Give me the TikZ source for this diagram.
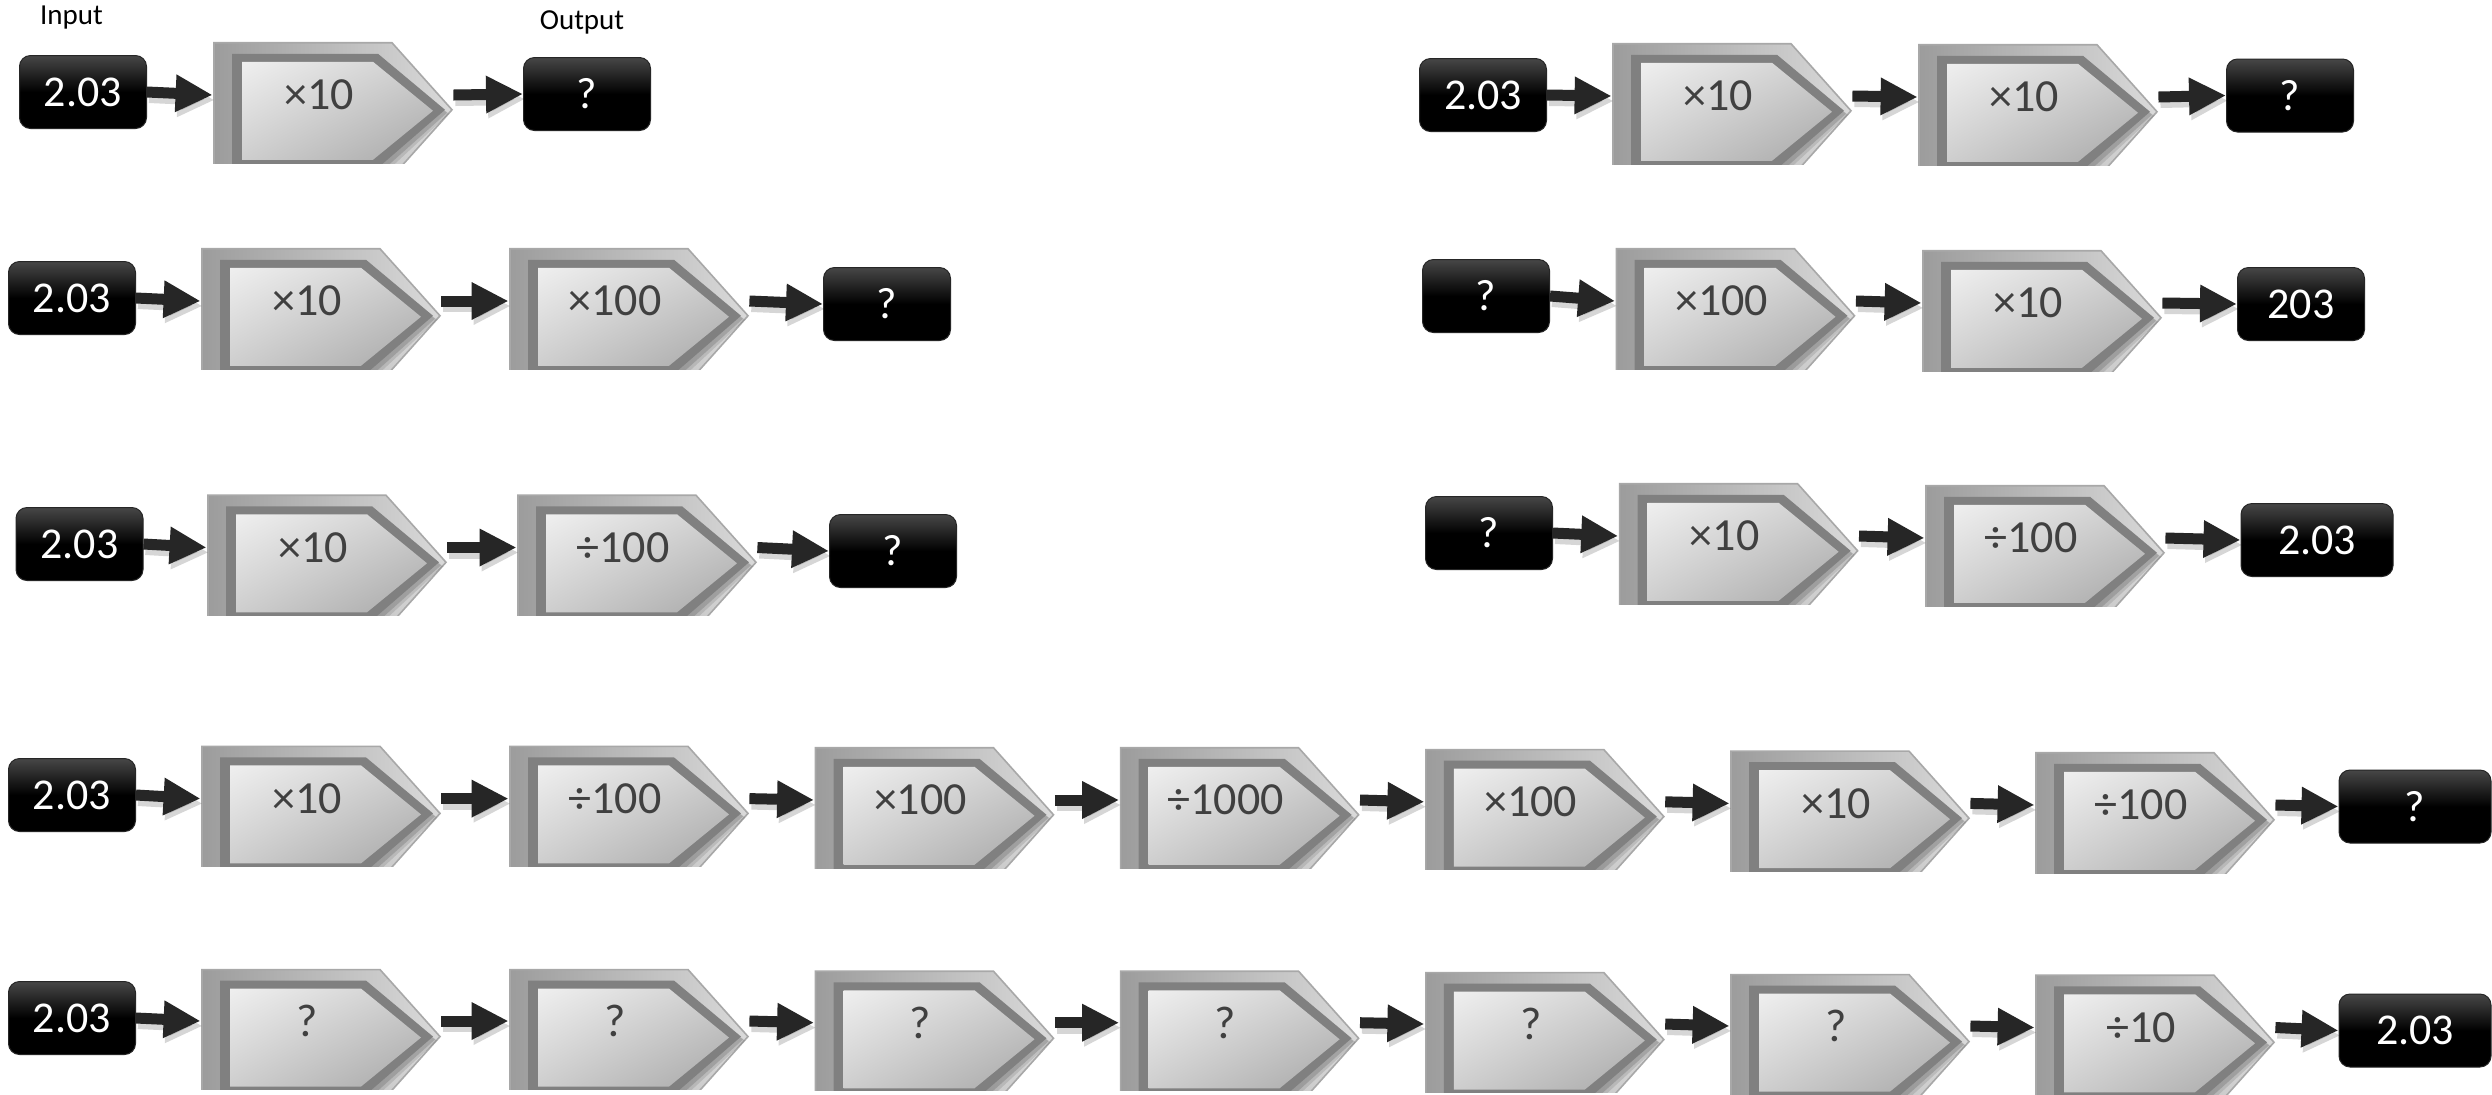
\documentclass[tikz,border=0pt]{standalone}
\usepackage{fontspec}
\setmainfont{Carlito}
\usetikzlibrary{arrows.meta,shadings}
\definecolor{arrowc}{HTML}{262626}
\definecolor{optext}{HTML}{404040}
\definecolor{rimL}{HTML}{9C9C9C}
\definecolor{rimR}{HTML}{DADADA}
\definecolor{rimB}{HTML}{A8A8A8}
\definecolor{darkin}{HTML}{808080}
\definecolor{litUL}{HTML}{EFEFEF}
\definecolor{litLR}{HTML}{A8A8A8}
\definecolor{litM}{HTML}{CECECE}
\definecolor{boxtop}{HTML}{474747}
\newcommand{\opl}[1]{\makebox[0pt][l]{\kern-7pt\makebox[0pt]{#1}}}
\tikzset{
  opbox/.style={rectangle, minimum width=120pt, minimum height=68pt, inner sep=0pt, draw=none,
    font=\fontsize{23}{27}\selectfont, text=optext,
    path picture={
      \begin{scope}[shift={(path picture bounding box.center)}, x=1pt, y=1pt]
        \path[left color=rimL, right color=rimR, draw=rimB, line width=0.8pt]
          (-59.5,33.5) -- (29.5,33.5) -- (59.5,0) -- (29.5,-33.5) -- (-59.5,-33.5) -- cycle;
        \fill[black, opacity=0.10] (-49,24) -- (25,24) -- (58,-2) -- (25,-32.5) -- (-49,-32.5) -- cycle;
        \fill[black, opacity=0.14] (-49.5,25) -- (24,25) -- (57,-1.5) -- (24,-31) -- (-49.5,-31) -- cycle;
        \fill[darkin] (-50.5,28) -- (22.5,28) -- (56,0) -- (22.5,-29) -- (-50.5,-29) -- cycle;
        \shade[upper left=litUL, lower right=litLR, upper right=litM, lower left=litM]
          (-45.5,24) -- (20,24) -- (50,-0.5) -- (20,-25) -- (-45.5,-25) -- cycle;
      \end{scope}}},
  valbox/.style={rectangle, rounded corners=5.5pt, minimum width=63.5pt, minimum height=36.5pt,
    inner sep=0pt, draw=black!85, line width=0.5pt,
    top color=boxtop, bottom color=black, middle color=black,
    text=white, font=\fontsize{22}{26}\selectfont},
  widebox/.style={valbox, minimum width=76pt},
  flow/.style={draw=arrowc, line width=5.5pt, -{Triangle[length=18.5pt,width=17.5pt]}},
  flowsh/.style={draw=black, opacity=0.16, line width=6pt, -{Triangle[length=18.5pt,width=17.5pt]}},
  lbl/.style={font=\fontsize{14.5}{17}\selectfont, text=black}
}
\begin{document}
\begin{tikzpicture}[x=0.5pt,y=0.5pt]
\useasboundingbox (0,0) rectangle (2492,-1094);
\fill[white] (0,0) rectangle (2492,-1094);

% row 1 left
\node[lbl] (inlab) at (71.5,-17.5) {Input};
\node[lbl] (outlab) at (582,-22) {Output};
\node[valbox] (a0) at (83,-92) {2.03};
\node[opbox] (a1) at (333,-95) {\opl{×10}};
\node[valbox] (a2) at (587,-94) {?};

% row 1 right
\node[valbox] (b0) at (1483,-95) {2.03};
\node[opbox] (b1) at (1732,-96) {\opl{×10}};
\node[opbox] (b2) at (2038,-97) {\opl{×10}};
\node[valbox] (b3) at (2290,-95.5) {?};

% row 2 left
\node[valbox] (c0) at (72,-298) {2.03};
\node[opbox] (c1) at (321,-301) {\opl{×10}};
\node[opbox] (c2) at (629,-301) {\opl{×100}};
\node[valbox] (c3) at (887,-304) {?};

% row 2 right
\node[valbox] (d0) at (1486,-296) {?};
\node[opbox] (d1) at (1735.5,-301) {\opl{×100}};
\node[opbox] (d2) at (2042,-303) {\opl{×10}};
\node[valbox] (d3) at (2301,-304) {203};

% row 3 left
\node[valbox] (e0) at (79.5,-544) {2.03};
\node[opbox] (e1) at (327,-547.5) {\opl{×10}};
\node[opbox] (e2) at (637,-547.5) {\opl{÷100}};
\node[valbox] (e3) at (893,-551) {?};

% row 3 right
\node[valbox] (f0) at (1489,-533) {?};
\node[opbox] (f1) at (1738.6,-536) {\opl{×10}};
\node[opbox] (f2) at (2045,-538) {\opl{÷100}};
\node[widebox] (f3) at (2317,-540) {2.03};

% row 4
\node[valbox] (g0) at (72,-795) {2.03};
\node[opbox] (g1) at (321,-798.6) {\opl{×10}};
\node[opbox] (g2) at (629,-798.6) {\opl{÷100}};
\node[opbox] (g3) at (934.5,-800) {\opl{×100}};
\node[opbox] (g4) at (1239.6,-800) {\opl{÷1000}};
\node[opbox] (g5) at (1544.8,-801.8) {\opl{×100}};
\node[opbox] (g6) at (1850,-803.4) {\opl{×10}};
\node[opbox] (g7) at (2155,-805) {\opl{÷100}};
\node[widebox] (g8) at (2415,-806.5) {?};

% row 5
\node[valbox] (h0) at (72,-1018) {2.03};
\node[opbox] (h1) at (321,-1021) {\opl{?}};
\node[opbox] (h2) at (629,-1021) {\opl{?}};
\node[opbox] (h3) at (934.5,-1022.7) {\opl{?}};
\node[opbox] (h4) at (1239.6,-1022.7) {\opl{?}};
\node[opbox] (h5) at (1544.8,-1024) {\opl{?}};
\node[opbox] (h6) at (1850,-1026) {\opl{?}};
\node[opbox] (h7) at (2155,-1027.5) {\opl{÷10}};
\node[widebox] (h8) at (2415,-1030.5) {2.03};

\foreach \u/\v in {a0/a1,a1/a2,b0/b1,b1/b2,b2/b3,c0/c1,c1/c2,c2/c3,d0/d1,d1/d2,d2/d3,
                   e0/e1,e1/e2,e2/e3,f0/f1,f1/f2,f2/f3,
                   g0/g1,g1/g2,g2/g3,g3/g4,g4/g5,g5/g6,g6/g7,g7/g8,
                   h0/h1,h1/h2,h2/h3,h3/h4,h4/h5,h5/h6,h6/h7,h7/h8}{
  \draw[flowsh] ([shift={(1pt,-2.5pt)}]\u.east) -- ([shift={(1pt,-2.5pt)}]\v.west);
  \draw[flow] (\u.east) -- (\v.west);
}
\end{tikzpicture}
\end{document}
